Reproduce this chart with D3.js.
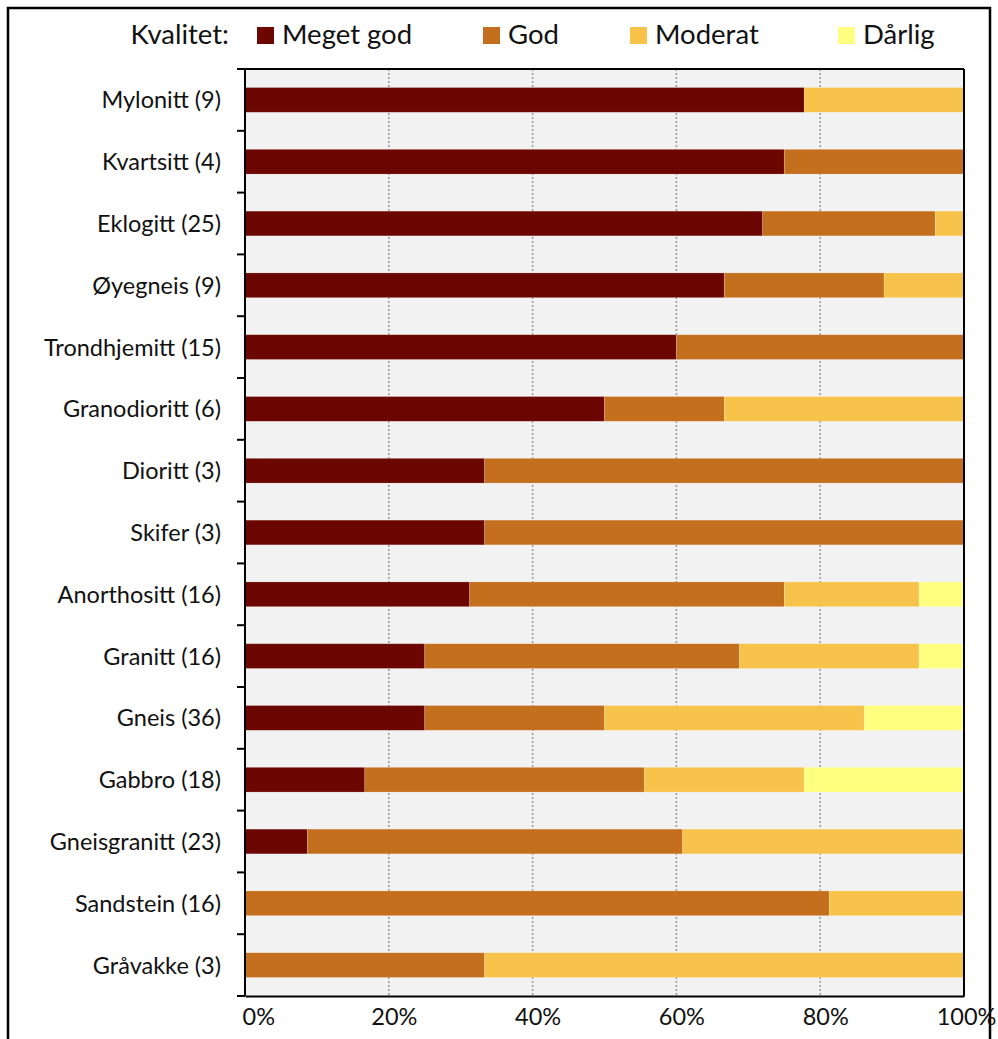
<html>
<head>
  <script src="https://d3js.org/d3.v7.min.js"></script>
  <style>
    body { margin: 0; background: white; }
    text { font-family: Lato, "Open Sans", sans-serif; fill: #111; }
  </style>
</head>
<body>
  <svg width="998" height="1039" id="chart"></svg>
  <script>
    // rock types with number of samples in brackets
    const rocks = ["Mylonitt (9)", "Kvartsitt (4)", "Eklogitt (25)", "Øyegneis (9)", "Trondhjemitt (15)",
      "Granodioritt (6)", "Dioritt (3)", "Skifer (3)", "Anorthositt (16)", "Granitt (16)", "Gneis (36)",
      "Gabbro (18)", "Gneisgranitt (23)", "Sandstein (16)", "Gråvakke (3)"];
    const kvaliteter = ["Meget god", "God", "Moderat", "Dårlig"];
    const farger = ["#6b0700", "#c46f1e", "#f7c34b", "#ffff80"];

    // sample counts per quality class
    const megetGod = [7, 3, 18, 6, 9, 3, 1, 1, 5, 4, 9, 3, 2, 0, 0];
    const god = [0, 1, 6, 2, 6, 1, 2, 2, 7, 7, 9, 7, 12, 13, 1];
    const moderat = [2, 0, 1, 1, 0, 2, 0, 0, 3, 4, 13, 4, 9, 3, 2];
    const darlig = [0, 0, 0, 0, 0, 0, 0, 0, 1, 1, 5, 4, 0, 0, 0];

    const xTicks = [0, 0.2, 0.4, 0.6, 0.8, 1];

    const rows = rocks.map((r, i) => ({
      rock: r, "Meget god": megetGod[i], "God": god[i], "Moderat": moderat[i], "Dårlig": darlig[i]
    }));

    const svg = d3.select("#chart");
    const pLeft = 245, pRight = 964, pTop = 69, pBottom = 996;

    // outer frame
    svg.append("rect")
      .attr("x", 8).attr("y", 8).attr("width", 982).attr("height", 1060)
      .attr("fill", "none").attr("stroke", "black").attr("stroke-width", 2.5);

    const x = d3.scaleLinear().domain([0, 1]).range([pLeft, pRight]);
    const y = d3.scaleBand().domain(rocks).range([pTop, pBottom]).paddingInner(0.6).paddingOuter(0.3);
    const yEdges = d3.scaleLinear().domain([0, rocks.length]).range([pTop, pBottom]);

    // plot background
    svg.append("rect")
      .attr("x", pLeft).attr("y", pTop).attr("width", pRight - pLeft).attr("height", pBottom - pTop)
      .attr("fill", "#f2f2f2");

    // dotted gridlines
    svg.selectAll(".grid")
      .data(xTicks.slice(1, -1))
      .join("line")
      .attr("x1", d => x(d)).attr("x2", d => x(d))
      .attr("y1", pTop).attr("y2", pBottom)
      .attr("stroke", "#999").attr("stroke-width", 1.5).attr("stroke-dasharray", "2,2");

    const stack = d3.stack().keys(kvaliteter).offset(d3.stackOffsetExpand);
    const series = stack(rows);

    svg.append("g").selectAll("g")
      .data(series)
      .join("g")
      .attr("fill", (d, i) => farger[i])
      .selectAll("rect")
      .data(d => d)
      .join("rect")
      .attr("x", d => x(d[0]))
      .attr("y", d => y(d.data.rock))
      .attr("width", d => x(d[1]) - x(d[0]))
      .attr("height", y.bandwidth())
      .attr("stroke", "white").attr("stroke-opacity", 0.3).attr("stroke-width", 0.6);

    // frame of plot area
    svg.append("line").attr("x1", 237).attr("x2", pRight).attr("y1", pTop).attr("y2", pTop)
      .attr("stroke", "black").attr("stroke-width", 2);
    svg.append("line").attr("x1", pRight).attr("x2", pRight).attr("y1", pTop).attr("y2", pBottom)
      .attr("stroke", "black").attr("stroke-width", 2);

    // left axis: ticks at band edges
    const leftAxis = svg.append("g");
    leftAxis.append("line").attr("x1", pLeft).attr("x2", pLeft).attr("y1", pTop).attr("y2", pBottom)
      .attr("stroke", "black").attr("stroke-width", 2);
    leftAxis.selectAll(".tk")
      .data(d3.range(rocks.length + 1))
      .join("line")
      .attr("x1", 237).attr("x2", pLeft)
      .attr("y1", d => yEdges(d)).attr("y2", d => yEdges(d))
      .attr("stroke", "black").attr("stroke-width", 2);
    leftAxis.selectAll(".lbl")
      .data(rocks)
      .join("text")
      .attr("x", 221)
      .attr("y", d => y(d) + y.bandwidth() / 2)
      .attr("dy", "0.36em")
      .attr("text-anchor", "end")
      .style("font-size", "23.5px")
      .text(d => d);

    // bottom axis
    const bottomAxis = d3.axisBottom(x).tickValues(xTicks).tickFormat(d3.format(".0%")).tickSize(0);
    const gx = svg.append("g")
      .attr("transform", `translate(0,${pBottom})`)
      .call(bottomAxis);
    gx.select(".domain").attr("stroke", "black").attr("stroke-width", 2);
    gx.selectAll("text").style("font-size", "23.5px").attr("font-family", null)
      .attr("y", 29).attr("dy", 0).attr("dx", 5);
    gx.selectAll(".tick").filter(d => d === 0).select("text").attr("text-anchor", "start").attr("dx", -3);
    gx.selectAll(".tick").filter(d => d === 1).select("text").attr("dx", 2);

    // legend
    const legend = svg.append("g");
    legend.append("text").attr("x", 229).attr("y", 44).attr("text-anchor", "end")
      .style("font-size", "27.5px").text("Kvalitet:");
    const legendX = [257, 483, 630, 838];
    kvaliteter.forEach((k, i) => {
      legend.append("rect").attr("x", legendX[i]).attr("y", 27).attr("width", 17).attr("height", 17)
        .attr("fill", farger[i]);
      legend.append("text").attr("x", legendX[i] + 25).attr("y", 44)
        .style("font-size", "27.5px").text(k);
    });
  </script>
</body>
</html>
